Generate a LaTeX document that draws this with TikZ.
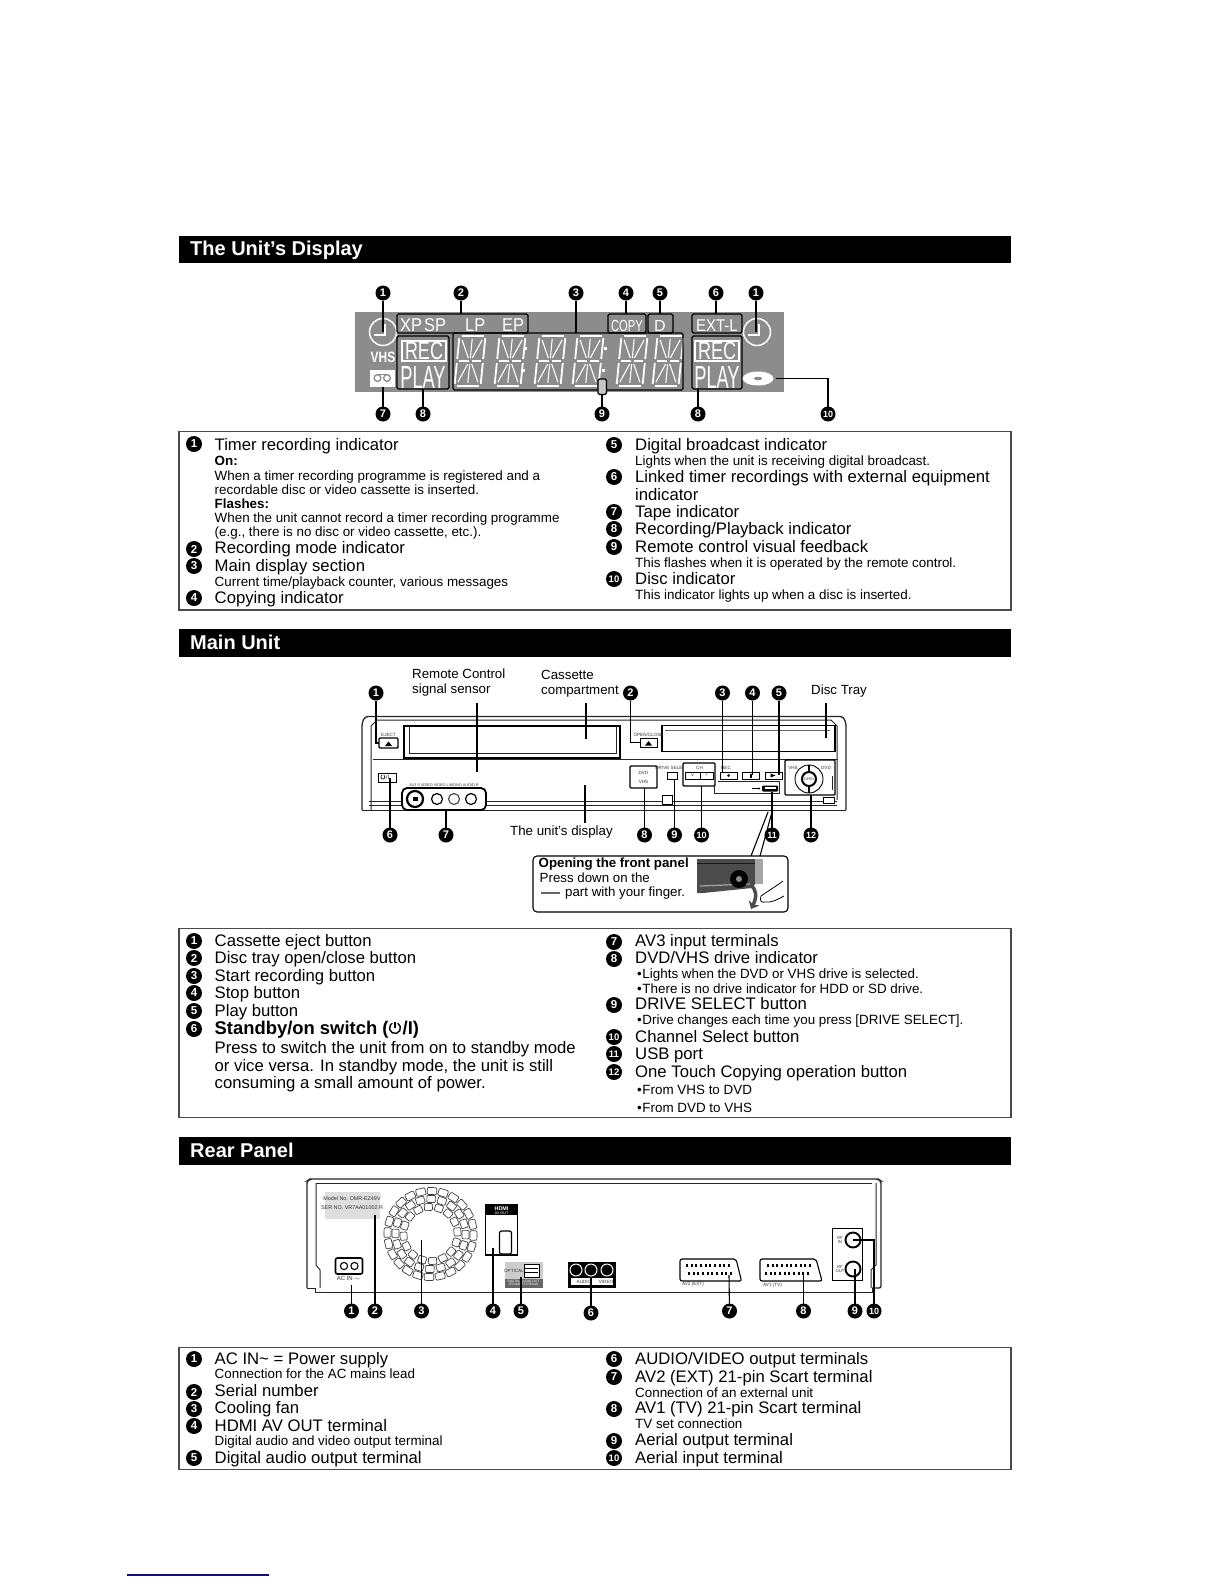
\documentclass[tikz,border=0pt]{standalone}
\usepackage{fontspec}
\setmainfont{Liberation Sans}
\usepackage{xcolor}
\usetikzlibrary{positioning, arrows.meta, shapes.geometric}
\definecolor{lcdgray}{HTML}{8C8C8C}
\definecolor{listedge}{HTML}{4A4A4A}
\definecolor{footblue}{HTML}{10107A}

\begin{document}
\begin{tikzpicture}[
    x=1pt, y=-1pt,
    header/.style={rectangle, fill=black, inner sep=0, outer sep=0, anchor=north west, minimum width=832, minimum height=27.5},
    headtext/.style={text=white, anchor=base west, inner sep=0, font=\fontsize{20}{20}\selectfont\bfseries},
    listbox/.style={rectangle, draw=listedge, line width=1.1, inner sep=0, outer sep=0, anchor=north west, minimum width=832},
    listbadge/.style={circle, fill=black, text=white, inner sep=0, minimum size=16, font=\fontsize{11.5}{11.5}\selectfont\bfseries},
    listbadgetwo/.style={listbadge, font=\fontsize{9.5}{9.5}\selectfont\bfseries},
    badge/.style={circle, fill=black, text=white, inner sep=0, outer sep=0, minimum size=15, font=\fontsize{11}{11}\selectfont\bfseries},
    badgetwo/.style={badge, font=\fontsize{9}{9}\selectfont\bfseries},
    mainitem/.style={anchor=base west, inner sep=0, font=\fontsize{16.7}{16.7}\selectfont},
    subitem/.style={anchor=base west, inner sep=0, font=\fontsize{13.4}{13.4}\selectfont},
    subbold/.style={subitem, font=\fontsize{13.4}{13.4}\selectfont\bfseries},
    calltext/.style={anchor=base west, inner sep=0, font=\fontsize{13.3}{13.3}\selectfont},
    lead/.style={line width=1.1},
    lcdbox/.style={rectangle, draw=black, line width=1.2, rounded corners=1.5, inner sep=0, outer sep=0, anchor=north west},
    lcdtext/.style={text=white, inner sep=0, transform shape},
    partbox/.style={rectangle, draw=black, inner sep=0, outer sep=0, anchor=north west, fill=white},
    thickbox/.style={partbox, line width=1.4, rounded corners=1},
    tinytext/.style={inner sep=0, font=\fontsize{4.6}{4.6}\selectfont, text=black!80},
    bodyline/.style={line width=1.0, black!85},
    fancell/.style={line width=.7, rounded corners=1, black!75},
    jack/.style={circle, draw=black, line width=1.2, inner sep=0, outer sep=0, fill=white},
    lcdglyph/.pic={
        \begin{scope}[xslant=.1, white, line width=1.8]
        \draw (-11,-25) -- (11,-25);
        \draw (-11,0) -- (-1.5,0);
        \draw (1.5,0) -- (11,0);
        \draw (-11,25) -- (11,25);
        \draw (-13,-23) -- (-13,-2);
        \draw (-13,2) -- (-13,23);
        \draw (13,-23) -- (13,-2);
        \draw (13,2) -- (13,23);
        \draw[line width=1.1] (0,-22) -- (0,-3);
        \draw[line width=1.1] (0,3) -- (0,22);
        \draw[line width=1.1] (-10,-21) -- (-2,-3);
        \draw[line width=1.1] (10,-21) -- (2,-3);
        \draw[line width=1.1] (-10,21) -- (-2,3);
        \draw[line width=1.1] (10,21) -- (2,3);
        \end{scope}
    },
]
\useasboundingbox (0,0) rectangle (1224,1584);
\fill[white] (0,0) rectangle (1224,1584);

% section bars
\node[header] (displaybar) at (179,235.5) {};
\node[headtext] (displaytitle) at (190,255.5) {The Unit’s Display};
\node[header] (mainbar) at (179,629) {};
\node[headtext] (maintitle) at (190,649.5) {Main Unit};
\node[header] (rearbar) at (179,1137) {};
\node[headtext] (reartitle) at (190,1157) {Rear Panel};

% display panel
\node[rectangle, fill=lcdgray, inner sep=0, outer sep=0, anchor=north west, minimum width=429, minimum height=80] (lcdpanel) at (355,312) {};
\node[circle, draw=white, line width=1.5, minimum size=27, inner sep=0] (clockleft) at (383,332) {};
\node[circle, draw=white, line width=1.5, minimum size=27, inner sep=0] (clockright) at (757,332) {};
\draw[white, line width=1.3] (385,324) -- (385,335) -- (374,335);
\draw[white, line width=1.3] (759,324) -- (759,335) -- (748,335);
\foreach \digitx in {470,510,550,588,632,668} {
    \pic at (\digitx,361) {lcdglyph};
}
\fill[white] (524,347) rectangle (526.5,349.5);
\fill[white] (522.5,369) rectangle (525,371.5);
\fill[white] (604,347) rectangle (606.5,349.5);
\fill[white] (602,369) rectangle (604.5,371.5);

\node[lcdbox, minimum width=131, minimum height=19] (modebox) at (397,314) {};
\node[lcdtext, anchor=base west, xscale=.88, font=\fontsize{18.6}{18.6}\selectfont] (modeone) at (400,331) {XP};
\node[lcdtext, anchor=base west, xscale=.88, font=\fontsize{18.6}{18.6}\selectfont] (modetwo) at (424,331) {SP};
\node[lcdtext, anchor=base west, xscale=.88, font=\fontsize{18.6}{18.6}\selectfont] (modethree) at (465,331) {LP};
\node[lcdtext, anchor=base west, xscale=.88, font=\fontsize{18.6}{18.6}\selectfont] (modefour) at (502,331) {EP};
\node[lcdbox, minimum width=38, minimum height=19] (copybox) at (608,314) {};
\node[lcdtext, anchor=base, xscale=.7, font=\fontsize{16}{16}\selectfont] (copytext) at (627,331) {COPY};
\node[lcdbox, minimum width=25, minimum height=19] (digitalbox) at (648,314) {};
\node[lcdtext, anchor=base, font=\fontsize{16}{16}\selectfont] (digitaltext) at (660,331) {D};
\node[lcdbox, minimum width=50, minimum height=19] (extbox) at (692,314) {};
\node[lcdtext, anchor=base, xscale=.88, font=\fontsize{17}{17}\selectfont] (exttext) at (717,331) {EXT-L};
\node[lcdbox, minimum width=230, minimum height=57] (mainbox) at (453,333) {};

\node[lcdbox, minimum width=52, minimum height=53] (playleft) at (397,336) {};
\node[rectangle, draw=white, line width=1.2, inner sep=0, outer sep=0, anchor=north west, minimum width=44, minimum height=20] (recleft) at (402,341) {};
\node[lcdtext, anchor=base, xscale=.72, font=\fontsize{25}{25}\selectfont] (rectextleft) at (424,359.5) {REC};
\node[lcdtext, anchor=base, xscale=.57, font=\fontsize{32}{32}\selectfont] (playtextleft) at (423,388) {PLAY};
\node[lcdbox, minimum width=50, minimum height=53] (playright) at (692,336) {};
\node[rectangle, draw=white, line width=1.2, inner sep=0, outer sep=0, anchor=north west, minimum width=44, minimum height=20] (recright) at (695,341) {};
\node[lcdtext, anchor=base, xscale=.72, font=\fontsize{25}{25}\selectfont] (rectextright) at (717,359.5) {REC};
\node[lcdtext, anchor=base, xscale=.57, font=\fontsize{32}{32}\selectfont] (playtextright) at (717,388) {PLAY};
\node[lcdtext, anchor=base, xscale=.8, font=\fontsize{15}{15}\selectfont\bfseries] (vhstext) at (383,362) {VHS};
\node[rectangle, fill=white, inner sep=0, outer sep=0, anchor=north west, minimum width=25, minimum height=16.5] (tapeicon) at (370,370) {};
\draw[lcdgray, line width=1.3] (377.5,378) circle[radius=3.4];
\draw[lcdgray, line width=1.3] (387,378) circle[radius=3.4];
\draw[lcdgray, line width=1.3] (377.5,374.6) -- (387,374.6);
\node[ellipse, fill=white, inner sep=0, outer sep=0, minimum width=31, minimum height=14] (discicon) at (758,378.5) {};
\node[ellipse, fill=lcdgray, inner sep=0, minimum width=8, minimum height=3.5] (dischole) at (758,378.5) {};
\node[lcdbox, fill=lcdgray!50!white, minimum width=8.5, minimum height=15.5] (feedback) at (598,379) {};

% display callouts
\node[badge] (dispone) at (383,293) {1};
\node[badge] (disptwo) at (461,293) {2};
\node[badge] (dispthree) at (576,293) {3};
\node[badge] (dispfour) at (626,293) {4};
\node[badge] (dispfive) at (660,293) {5};
\node[badge] (dispsix) at (716,293) {6};
\node[badge] (dispeleven) at (756,293) {1};
\node[badge] (dispseven) at (383,414) {7};
\node[badge] (dispeight) at (423,414) {8};
\node[badge] (dispnine) at (602,414) {9};
\node[badge] (disptwelve) at (698,414) {8};
\node[badgetwo] (dispten) at (828,414) {10};
\draw[lead] (dispone) -- (clockleft.center);
\draw[lead] (dispeleven) -- (dispeleven |- clockright);
\draw[lead] (disptwo) -- (disptwo |- modebox.north);
\draw[lead] (dispthree) -- (dispthree |- mainbox.north);
\draw[lead] (dispfour) -- (dispfour |- copybox.north);
\draw[lead] (dispfive) -- (dispfive |- digitalbox.north);
\draw[lead] (dispsix) -- (dispsix |- extbox.north);
\draw[lead] (dispseven) -- (dispseven |- tapeicon.south);
\draw[lead] (dispeight) -- (dispeight |- playleft.south);
\draw[lead] (dispnine) -- (dispnine |- feedback.south);
\draw[lead] (disptwelve) -- (disptwelve |- playright.south);
\draw[lead] (dispten) -- (dispten |- discicon) -- ([xshift=2]discicon.east);

% display list
\node[listbox, minimum height=178.5] (displaylist) at (179,431.5) {};
\node[listbadge] (dlone) at (194,444) {1};
\node[listbadge] (dltwo) at (194,549) {2};
\node[listbadge] (dlthree) at (194,566) {3};
\node[listbadge] (dlfour) at (194,598) {4};
\node[listbadge] (dlfive) at (614,445) {5};
\node[listbadge] (dlsix) at (614,477) {6};
\node[listbadge] (dlseven) at (614,512) {7};
\node[listbadge] (dleight) at (614,529) {8};
\node[listbadge] (dlnine) at (614,547) {9};
\node[listbadgetwo] (dlten) at (614,579) {10};
\node[mainitem] (timeritem) at (214.5,450) {Timer recording indicator};
\node[subbold] (onitem) at (214.5,465) {On:};
\node[subitem] (onlineone) at (214.5,480) {When a timer recording programme is registered and a};
\node[subitem] (onlinetwo) at (214.5,494) {recordable disc or video cassette is inserted.};
\node[subbold] (flashitem) at (214.5,508) {Flashes:};
\node[subitem] (flashone) at (214.5,522) {When the unit cannot record a timer recording programme};
\node[subitem] (flashtwo) at (214.5,536) {(e.g., there is no disc or video cassette, etc.).};
\node[mainitem] (modeitem) at (214.5,553) {Recording mode indicator};
\node[mainitem] (mainitemtext) at (214.5,571) {Main display section};
\node[subitem] (mainsub) at (214.5,586) {Current time/playback counter, various messages};
\node[mainitem] (copyitem) at (214.5,603) {Copying indicator};
\node[mainitem] (digitalitem) at (635,450) {Digital broadcast indicator};
\node[subitem] (digitalsub) at (635,465) {Lights when the unit is receiving digital broadcast.};
\node[mainitem] (linkeditem) at (635,482) {Linked timer recordings with external equipment};
\node[mainitem] (linkedtwo) at (635,500) {indicator};
\node[mainitem] (tapeitem) at (635,517) {Tape indicator};
\node[mainitem] (recitem) at (635,534) {Recording/Playback indicator};
\node[mainitem] (remoteitem) at (635,552) {Remote control visual feedback};
\node[subitem] (remotesub) at (635,567) {This flashes when it is operated by the remote control.};
\node[mainitem] (discitem) at (635,584) {Disc indicator};
\node[subitem] (discsub) at (635,599) {This indicator lights up when a disc is inserted.};

% main unit labels
\node[calltext] (sensorone) at (412,678) {Remote Control};
\node[calltext] (sensortwo) at (412,693) {signal sensor};
\node[calltext] (cassetteone) at (541,679) {Cassette};
\node[calltext] (cassettetwo) at (541,694) {compartment};
\node[calltext] (traytext) at (811,694) {Disc Tray};
\node[calltext] (displaylabel) at (510,835) {The unit's display};

% main unit body
\draw[bodyline, line width=1.3, rounded corners=3] (362,810) -- (362,723) -- (365,716.5) -- (843,716.5) -- (846,723) -- (846,810);
\draw[bodyline] (371,810) -- (371,726) -- (377,720) -- (831,720) -- (837,726) -- (837,800);
\draw[bodyline] (362,810) -- (846,810);
\draw[bodyline] (373,759.5) -- (838,759.5);
\draw[bodyline] (369,801.5) -- (837,801.5);
\draw[bodyline] (369,805.5) -- (837,805.5);
\node[partbox, line width=1.3, minimum width=216, minimum height=32] (cassettedoor) at (404,726) {};
\draw[bodyline] (409,726) -- (409,753) -- (616,753) -- (616,726);
\node[partbox, line width=1.3, minimum width=173, minimum height=26] (disctray) at (662,725.5) {};
\draw[black!60, line width=1.6] (665,730.5) -- (830,730.5);
\node[thickbox, minimum width=19, minimum height=10] (ejectbtn) at (379,738) {};
\fill (385,746) -- (392,746) -- (388.5,741.5) -- cycle;
\node[tinytext] (ejecttext) at (388.5,735) {EJECT};
\node[partbox, minimum width=17, minimum height=9] (openbtn) at (640,738) {};
\fill (645,745.5) -- (652,745.5) -- (648.5,741) -- cycle;
\node[tinytext] (opentext) at (648.5,734.5) {OPEN/CLOSE};
\node[partbox, minimum width=18, minimum height=9] (standbybtn) at (378,773) {};
\node[tinytext, font=\fontsize{6}{6}\selectfont] (standbybar) at (387.5,777.5) {/I};
\draw[line width=.7] (383.9,775.3) arc[start angle=-60, end angle=240, radius=2];
\node[partbox, line width=1.8, rounded corners=5, minimum width=84, minimum height=22] (avpanel) at (402,788) {};
\node[jack, line width=2.2, minimum size=16] (svideo) at (415,799) {};
\fill (412.5,797) rectangle (417.5,801);
\node[jack, minimum size=11] (jackone) at (437,799) {};
\node[jack, draw=black!70, minimum size=11] (jacktwo) at (454,799) {};
\node[jack, minimum size=11] (jackthree) at (471,799) {};
\node[tinytext, font=\fontsize{3.8}{3.8}\selectfont] (avtext) at (444,785.5) {AV3 S VIDEO VIDEO L/MONO AUDIO R};
\node[thickbox, minimum width=27, minimum height=22] (drivebox) at (630,766) {};
\node[tinytext] (dvdtext) at (643.5,773) {DVD};
\node[tinytext] (vhstiny) at (643.5,782) {VHS};
\node[partbox, minimum width=10, minimum height=7.5] (selectbtn) at (667,771.7) {};
\node[tinytext] (selecttext) at (672,767.5) {DRIVE SELECT};
\node[thickbox, minimum width=32, minimum height=23] (chbox) at (683,763) {};
\node[tinytext] (chtext) at (699.5,767.5) {CH};
\node[partbox, minimum width=15, minimum height=7.5] (chdown) at (685,771.7) {};
\node[partbox, minimum width=13, minimum height=7.5] (chup) at (700,771.7) {};
\node[tinytext, font=\fontsize{5}{5}\selectfont] (chdowntext) at (692.5,775) {v};
\node[tinytext, font=\fontsize{5}{5}\selectfont] (chuptext) at (706.5,775.5) {\^{}};
\node[partbox, minimum width=17, minimum height=7.5] (recbtn) at (720,771.7) {};
\node[circle, fill=black, minimum size=3, inner sep=0] (recdot) at (728.5,775.5) {};
\node[tinytext] (rectiny) at (726,767.5) {REC};
\node[partbox, minimum width=17, minimum height=7.5] (stopbtn) at (742,771.7) {};
\fill (749.5,773.5) rectangle (752,777.5);
\node[partbox, minimum width=17, minimum height=7.5] (playbtn) at (765,771.7) {};
\fill (770.5,773.5) -- (770.5,777.5) -- (775.5,775.5) -- cycle;
\draw[bodyline] (714,784) -- (714,793) -- (779,793) -- (779,781.5) -- (718,781.5);
\node[rectangle, fill=black, rounded corners=1, inner sep=0, outer sep=0, minimum width=16, minimum height=6] (usbport) at (770,788.5) {};
\fill[white] (764.5,786.7) rectangle (775.5,788.5);
\draw[line width=.6] (752,788.5) -- (759,788.5);
\draw[line width=.6] (759,788.5) circle[radius=.8];
\node[thickbox, minimum width=50, minimum height=35] (copypanel) at (785,760) {};
\node[circle, draw=black, line width=.9, fill=white, inner sep=0, minimum size=28] (navring) at (809,779) {};
\node[circle, draw=black, line width=2, fill=white, inner sep=0, minimum size=14] (navhub) at (809,779) {};
\draw[line width=1.6] (809,765) -- (809,772);
\draw[line width=1.6] (809,786) -- (809,793);
\node[tinytext, font=\fontsize{3.5}{3.5}\selectfont] (navtext) at (809,779) {OPEN};
\node[tinytext] (vhsnav) at (793,768) {VHS};
\node[tinytext] (dvdnav) at (826,768) {DVD};
\draw[bodyline] (832,776) -- (832,790);
\node[partbox, minimum width=10, minimum height=9] (latchone) at (662,795) {};
\node[partbox, minimum width=11, minimum height=6] (latchtwo) at (823,797) {};

% main unit callouts
\node[badge] (mainone) at (376,693) {1};
\node[badge] (maintwo) at (630.5,693) {2};
\node[badge] (mainthree) at (722.5,693) {3};
\node[badge] (mainfour) at (752.5,693) {4};
\node[badge] (mainfive) at (779,693) {5};
\node[badge] (mainsix) at (390,835) {6};
\node[badge] (mainseven) at (446,835) {7};
\node[badge] (maineight) at (644.5,835) {8};
\node[badge] (mainnine) at (674.5,835) {9};
\node[badgetwo] (mainten) at (701.5,835) {10};
\node[badgetwo] (maineleven) at (772,835) {11};
\node[badgetwo] (maintwelve) at (811,835) {12};
\coordinate (sensorend) at (477,772);
\coordinate (sensortop) at (477,703);
\coordinate (cassetteend) at (586,739);
\coordinate (cassettetop) at (586,703);
\coordinate (trayend) at (826,738);
\coordinate (traytop) at (826,703);
\coordinate (displayend) at (585,785);
\coordinate (displaybottom) at (585,823);
\draw[lead] (sensortop) -- (sensorend);
\draw[lead] (cassettetop) -- (cassetteend);
\draw[lead] (traytop) -- (trayend);
\draw[lead] (displayend) -- (displaybottom);
\draw[lead] (mainone) -- (mainone |- ejectbtn) -- (ejectbtn.west);
\draw[lead] (maintwo) -- (maintwo |- openbtn) -- (openbtn.west);
\draw[lead] (mainthree) -- (mainthree |- recbtn.north);
\draw[lead] (mainfour) -- (mainfour |- stopbtn);
\draw[lead] (mainfive) -- (mainfive |- playbtn);
\draw[lead] (mainsix) -- (mainsix |- standbybtn);
\draw[lead] (mainseven) -- (mainseven |- avpanel.south);
\draw[lead] (maineight) -- (maineight |- drivebox.south);
\draw[lead] (mainnine) -- (mainnine |- selectbtn.south);
\draw[lead] (mainten) -- (mainten |- chbox.south);
\draw[lead] (maineleven) -- (maineleven |- usbport.south);
\draw[lead] (maintwelve) -- (maintwelve |- copypanel.south);

% front panel note
\node[partbox, line width=1.1, rounded corners=4, minimum width=255, minimum height=56] (notebox) at (533,856) {};
\draw[lead] (768,812) -- (751,856);
\draw[lead] (772,812) -- (760,856);
\node[calltext, font=\fontsize{13.3}{13.3}\selectfont\bfseries] (notehead) at (538.5,867) {Opening the front panel};
\node[calltext] (noteone) at (539.5,882) {Press down on the};
\node[calltext] (notetwo) at (565,896) {part with your finger.};
\draw[black!60, line width=2] (541,893) -- (560,893);
\fill[black!70] (697,859) -- (756,859) -- (756,883) -- (752,888) -- (703,893) -- (697,893) -- cycle;
\fill[black!35] (755,859) -- (763,859) -- (763,884) -- (755,884) -- cycle;
\draw[black!90, line width=1] (697,863) -- (755,863);
\draw[black!35, line width=1.2] (700,886) -- (750,884);
\node[circle, fill=black, inner sep=0, minimum size=18] (notering) at (739,879) {};
\node[circle, fill=black!45, inner sep=0, minimum size=6] (notehub) at (739,879) {};
\draw[black!70, line width=3.5, -{Stealth[length=7pt, width=12pt]}] (750,885) .. controls (757,889) and (757,897) .. (751,909);
\draw[fill=white, line width=.8] (783,881) .. controls (775,887) and (768,891) .. (761,896) .. controls (759,901) and (762,903) .. (765,902) .. controls (772,903) and (778,899) .. (784,896);

% main unit list
\node[listbox, minimum height=189.5] (mainlist) at (179,928.3) {};
\node[listbadge] (mlone) at (194,941) {1};
\node[listbadge] (mltwo) at (194,958) {2};
\node[listbadge] (mlthree) at (194,976) {3};
\node[listbadge] (mlfour) at (194,993) {4};
\node[listbadge] (mlfive) at (194,1011) {5};
\node[listbadge] (mlsix) at (194,1029) {6};
\node[listbadge] (mlseven) at (614,942) {7};
\node[listbadge] (mleight) at (614,959) {8};
\node[listbadge] (mlnine) at (614,1005) {9};
\node[listbadgetwo] (mlten) at (614,1037) {10};
\node[listbadgetwo] (mleleven) at (614,1054) {11};
\node[listbadgetwo] (mltwelve) at (614,1072) {12};
\node[mainitem] (ejectitem) at (214.5,946) {Cassette eject button};
\node[mainitem] (trayitem) at (214.5,963) {Disc tray open/close button};
\node[mainitem] (startitem) at (214.5,981) {Start recording button};
\node[mainitem] (stopitem) at (214.5,998) {Stop button};
\node[mainitem] (playitem) at (214.5,1016) {Play button};
\node[mainitem, font=\fontsize{18.4}{18.4}\selectfont\bfseries] (standbyitem) at (214.5,1034) {Standby/on switch (};
\node[mainitem, font=\fontsize{18.4}{18.4}\selectfont\bfseries] (standbyend) at (402.5,1034) {/I)};
\draw[line width=1.4] (397.75,1023.24) arc[start angle=-60, end angle=240, radius=5.5];
\draw[line width=1.4] (395,1021.5) -- (395,1028);
\node[mainitem] (pressone) at (214.5,1053) {Press to switch the unit from on to standby mode};
\node[mainitem] (presstwo) at (214.5,1071) {or vice versa. In standby mode, the unit is still};
\node[mainitem] (pressthree) at (214.5,1088) {consuming a small amount of power.};
\node[mainitem] (avitem) at (635,946) {AV3 input terminals};
\node[mainitem] (driveitem) at (635,963) {DVD/VHS drive indicator};
\node[subitem] (driveone) at (637,978) {\textbullet\hspace{.6pt}Lights when the DVD or VHS drive is selected.};
\node[subitem] (drivetwo) at (637,993) {\textbullet\hspace{.6pt}There is no drive indicator for HDD or SD drive.};
\node[mainitem] (selectitem) at (635,1009) {DRIVE SELECT button};
\node[subitem] (selectone) at (637,1024) {\textbullet\hspace{.6pt}Drive changes each time you press [DRIVE SELECT].};
\node[mainitem] (channelitem) at (635,1042) {Channel Select button};
\node[mainitem] (usbitem) at (635,1059) {USB port};
\node[mainitem] (touchitem) at (635,1077) {One Touch Copying operation button};
\node[subitem] (touchone) at (637,1094) {\textbullet\hspace{.6pt}From VHS to DVD};
\node[subitem] (touchtwo) at (637,1112) {\textbullet\hspace{.6pt}From DVD to VHS};

% rear panel body
\draw[bodyline, line width=1.4, rounded corners=2] (307,1288) -- (307,1181) -- (310,1179) -- (878,1179) -- (881,1181) -- (881,1288) -- (872,1288);
\draw[bodyline] (315,1288) -- (315,1292) -- (872,1292) -- (872,1288);
\draw[bodyline] (307,1288) -- (315,1288);
\draw[bodyline] (316,1183) -- (872,1183);
\draw[bodyline] (316,1183) -- (316,1265) -- (320,1270) -- (320,1288);
\draw[bodyline] (876,1183) -- (876,1265) -- (871,1270) -- (871,1288);
\node[rectangle, fill=black!13, inner sep=0, outer sep=0, anchor=north west, minimum width=54.5, minimum height=27] (serialplate) at (325,1192) {};
\node[tinytext, font=\fontsize{5.4}{5.4}\selectfont] (serialone) at (352,1199) {Model No. DMR-EZ49V};
\node[tinytext, font=\fontsize{5.4}{5.4}\selectfont] (serialtwo) at (352,1207.5) {SER NO. VR7AA01002 R};
\foreach \ringr/\ringn/\ringw in {27/16/8, 35/20/8.5, 43/24/9.5} {
    \foreach \celli in {1,...,\ringn} {
        \draw[fancell, shift={(430.5,1234)}, rotate=\celli*360/\ringn+\ringr] ({\ringr-3.5},{-\ringw/2}) rectangle ({\ringr+3.5},{\ringw/2});
    }
}
\coordinate (fanend) at (421.5,1240);
\node[partbox, line width=1.1, minimum width=32, minimum height=50] (hdmibox) at (485.5,1205) {};
\node[rectangle, fill=black, inner sep=0, outer sep=0, anchor=north west, minimum width=32, minimum height=10] (hdmistrip) at (485.5,1205) {};
\node[tinytext, text=white, font=\fontsize{5.4}{5.4}\selectfont\bfseries] (hdmitext) at (501.5,1208.5) {HDMI};
\node[tinytext, text=white, font=\fontsize{3.8}{3.8}\selectfont] (hdmisub) at (501.5,1213) {AV OUT};
\node[partbox, line width=1.2, rounded corners=2, minimum width=12, minimum height=23] (hdmiport) at (499.5,1231) {};
\coordinate (hdmiend) at (493,1248);
\node[rectangle, fill=black!20, inner sep=0, outer sep=0, anchor=north west, minimum width=38, minimum height=26] (optical) at (504.5,1262) {};
\node[tinytext] (opticaltext) at (514,1271) {OPTICAL};
\node[partbox, line width=.8, minimum width=15, minimum height=13] (opticalport) at (524,1264) {};
\draw[black, line width=.9] (525,1268) -- (538,1268);
\draw[black, line width=.9] (525,1272) -- (538,1272);
\fill[black!60] (504.5,1279) rectangle (542.5,1288);
\node[tinytext, text=white, font=\fontsize{3.3}{3.3}\selectfont, align=center] (opticalsub) at (523.5,1283.5) {DIGITAL AUDIO OUT\\(PCM/BITSTREAM)};
\coordinate (opticalend) at (521,1277);
\node[rectangle, fill=black, inner sep=0, outer sep=0, anchor=north west, minimum width=48, minimum height=26] (avoutbox) at (568,1262) {};
\fill[white] (571,1278) rectangle (613,1285);
\node[jack, draw=white, fill=black, line width=1, minimum size=12] (audioleft) at (576,1270) {};
\node[jack, draw=white, fill=black, line width=1, minimum size=12] (audioright) at (591,1270) {};
\node[jack, draw=white, fill=black, line width=1, minimum size=12] (videojack) at (607,1270) {};
\node[tinytext] (audiotext) at (584,1281.5) {AUDIO};
\node[tinytext] (videotext) at (606,1281.5) {VIDEO};
\coordinate (avoutend) at (591,1277);
\draw[line width=1.1, rounded corners=2] (680,1259) -- (736,1259) -- (741.5,1281) -- (680,1281) -- cycle;
\draw[line width=1.1, rounded corners=2] (760,1259) -- (816,1259) -- (822,1281) -- (760,1281) -- cycle;
\foreach \pinn in {0,...,9} {
    \fill ({686+4.65*\pinn},1264) rectangle ({688+4.65*\pinn},1267);
    \fill ({688+4.65*\pinn},1272) rectangle ({690+4.65*\pinn},1275);
    \fill ({767+4.65*\pinn},1264) rectangle ({769+4.65*\pinn},1267);
    \fill ({765+4.65*\pinn},1272) rectangle ({767+4.65*\pinn},1275);
}
\node[tinytext] (avtwotext) at (693,1284.5) {AV2 (EXT)};
\node[tinytext] (avonetext) at (772.5,1285) {AV1 (TV)};
\coordinate (avtwoend) at (729,1275);
\coordinate (avoneend) at (803.5,1273);
\node[partbox, line width=1.6, rounded corners=2, minimum width=27, minimum height=16] (acinlet) at (335.5,1258) {};
\draw[line width=1.1] (344,1266) circle[radius=3.6];
\draw[line width=1.1] (354.5,1266) circle[radius=3.6];
\node[tinytext, font=\fontsize{6}{6}\selectfont] (actext) at (348.5,1278.5) {AC IN $\sim$};
\node[partbox, line width=.9, minimum width=29.5, minimum height=52] (aerialbox) at (832.5,1228) {};
\node[jack, line width=1.9, minimum size=15] (aerialin) at (853,1240) {};
\node[jack, line width=1.9, minimum size=15] (aerialout) at (853,1269) {};
\node[tinytext, align=center, font=\fontsize{4.2}{4.4}\selectfont] (aerialintext) at (840,1240) {RF\\IN};
\node[tinytext, align=center, font=\fontsize{4.2}{4.4}\selectfont] (aerialouttext) at (840,1269) {RF\\OUT};

% rear callouts
\node[badge] (rearone) at (351.5,1311) {1};
\node[badge] (reartwo) at (375,1311) {2};
\node[badge] (rearthree) at (421.5,1311) {3};
\node[badge] (rearfour) at (493,1311) {4};
\node[badge] (rearfive) at (521,1311) {5};
\node[badge] (rearsix) at (591,1313) {6};
\node[badge] (rearseven) at (729.5,1311) {7};
\node[badge] (reareight) at (803.5,1311) {8};
\node[badge] (rearnine) at (855,1311) {9};
\node[badgetwo] (rearten) at (874,1311) {10};
\draw[lead] (rearone) -- (351.5,1285);
\draw[lead] (reartwo) -- (375,1215);
\draw[lead] (rearthree) -- (fanend);
\draw[lead] (rearfour) -- (hdmiend);
\draw[lead] (rearfive) -- (opticalend);
\draw[lead] (rearsix) -- (avoutend);
\draw[lead] (rearseven) -- (avtwoend);
\draw[lead] (reareight) -- (avoneend);
\draw[lead] (rearnine) -- (rearnine |- aerialout);
\draw[lead] (rearten) -- (rearten |- aerialin) -- (aerialin.center);

% rear list
\node[listbox, minimum height=122] (rearlist) at (179,1347.3) {};
\node[listbadge] (rlone) at (194,1359) {1};
\node[listbadge] (rltwo) at (194,1392) {2};
\node[listbadge] (rlthree) at (194,1409) {3};
\node[listbadge] (rlfour) at (194,1426) {4};
\node[listbadge] (rlfive) at (194,1458) {5};
\node[listbadge] (rlsix) at (614,1359) {6};
\node[listbadge] (rlseven) at (614,1377) {7};
\node[listbadge] (rleight) at (614,1409) {8};
\node[listbadge] (rlnine) at (614,1441) {9};
\node[listbadgetwo] (rlten) at (614,1458) {10};
\node[mainitem] (acitem) at (214.5,1364) {AC IN\textasciitilde{} = Power supply};
\node[subitem] (acsub) at (214.5,1378) {Connection for the AC mains lead};
\node[mainitem] (serialitem) at (214.5,1396) {Serial number};
\node[mainitem] (fanitem) at (214.5,1413) {Cooling fan};
\node[mainitem] (hdmiitem) at (214.5,1431) {HDMI AV OUT terminal};
\node[subitem] (hdmisubitem) at (214.5,1445) {Digital audio and video output terminal};
\node[mainitem] (opticalitem) at (214.5,1463) {Digital audio output terminal};
\node[mainitem] (avoutitem) at (635,1364) {AUDIO/VIDEO output terminals};
\node[mainitem] (avtwoitem) at (635,1382) {AV2 (EXT) 21-pin Scart terminal};
\node[subitem] (avtwosub) at (635,1397) {Connection of an external unit};
\node[mainitem] (avoneitem) at (635,1413) {AV1 (TV) 21-pin Scart terminal};
\node[subitem] (avonesub) at (635,1428) {TV set connection};
\node[mainitem] (aerialoutitem) at (635,1445) {Aerial output terminal};
\node[mainitem] (aerialinitem) at (635,1463) {Aerial input terminal};

\coordinate (footstart) at (127,1575);
\coordinate (footend) at (269,1575);
\draw[footblue, line width=1.3] (footstart) -- (footend);
\end{tikzpicture}
\end{document}
